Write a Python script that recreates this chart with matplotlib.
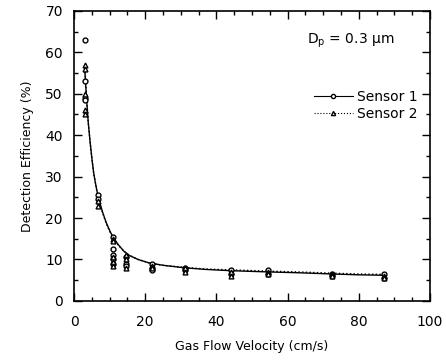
import numpy as np
import matplotlib
matplotlib.use('Agg')
import matplotlib.pyplot as plt
from matplotlib.ticker import MultipleLocator

# measured points (gas flow velocity in cm/s, detection efficiency in %)
s1_x = [3, 3, 3, 3, 6.8, 6.8, 11, 11, 11, 11, 11, 14.6, 14.6, 14.6,
        21.8, 21.8, 21.8, 31.2, 31.2, 44, 44, 54.5, 54.5, 72.6, 72.6, 87, 87]
s1_y = [63, 53, 49, 48.5, 25.5, 24.5, 15.5, 12.5, 11, 10, 9, 10.5, 9, 8.5,
        9, 8, 7.5, 8, 7.5, 7.5, 6.5, 7.5, 6.5, 6.5, 6, 6.5, 5.5]
s2_x = [3, 3, 3, 3, 3, 6.8, 6.8, 11, 11, 11, 11, 11, 14.6, 14.6, 14.6,
        21.8, 21.8, 31.2, 31.2, 44, 44, 54.5, 54.5, 72.6, 72.6, 87, 87]
s2_y = [57, 56, 50, 46, 45, 24, 23, 15, 14.5, 10.5, 9.5, 8.5, 11, 10, 8,
        8.5, 8, 8, 7, 7, 6, 7, 6.5, 6.5, 6, 6, 5.5]

# fitted curves
fit_x = [3, 3.5, 4, 4.5, 5, 5.5, 6, 6.8, 8, 9, 10, 11, 12.5, 14, 15.5, 18,
         21, 25, 31, 37, 44, 54.5, 63, 72.6, 80, 87]
fit1_y = [56, 49, 43, 38.5, 34.5, 31, 28.5, 25, 21.5, 19, 17, 15.3, 13.5,
          12, 11, 10, 9.2, 8.6, 8.0, 7.6, 7.3, 7.0, 6.8, 6.5, 6.3, 6.2]
fit2_y = [57, 49.5, 43, 38.5, 34.5, 31, 28.5, 24.5, 21.3, 18.8, 16.8, 15.2,
          13.4, 12, 11, 10, 9.2, 8.6, 8.1, 7.7, 7.5, 7.2, 7.0, 6.7, 6.5, 6.4]

fig = plt.figure(figsize=(4.46, 3.63), dpi=100)
ax = fig.add_axes([0.166, 0.171, 0.798, 0.799])

ax.plot(fit_x, fit1_y, '-', color='black', lw=1.0)
ax.plot(fit_x, fit2_y, ':', color='black', lw=1.0)
ax.plot(s1_x, s1_y, 'o', ms=3.5, mfc='white', mec='black', mew=1.0)
ax.plot(s2_x, s2_y, '^', ms=3.5, mfc='white', mec='black', mew=1.0)

# legend drawn with proxy lines
h1, = ax.plot([], [], '-', color='black', lw=0.8, marker='o', ms=3,
              mfc='white', mec='black')
h2, = ax.plot([], [], ':', color='black', lw=0.8, marker='^', ms=3,
              mfc='white', mec='black')
ax.legend([h1, h2], ['Sensor 1', 'Sensor 2'], loc='upper right',
          bbox_to_anchor=(1.0, 0.77), frameon=False, fontsize=10,
          handlelength=2.8, handletextpad=0.3, labelspacing=0.2,
          borderaxespad=0.5)
ax.text(65.5, 62, r'D$_\mathregular{p}$ = 0.3 μm', fontsize=10)

ax.set_xlim(0, 100)
ax.set_ylim(0, 70)
ax.xaxis.set_major_locator(MultipleLocator(20))
ax.xaxis.set_minor_locator(MultipleLocator(5))
ax.yaxis.set_major_locator(MultipleLocator(10))
ax.yaxis.set_minor_locator(MultipleLocator(5))
ax.tick_params(which='both', direction='in', top=True, right=True,
               labelsize=10, width=1.0)
ax.tick_params(which='major', length=6)
ax.tick_params(which='minor', length=3)
ax.tick_params(axis='x', which='major', pad=10)
ax.tick_params(axis='y', which='major', pad=8)
for sp in ax.spines.values():
    sp.set_linewidth(1.2)

ax.set_xlabel('Gas Flow Velocity (cm/s)', fontsize=9, labelpad=8)
ax.set_ylabel('Detection Efficiency (%)', fontsize=9, labelpad=8)

fig.savefig('out.png', dpi=100)
